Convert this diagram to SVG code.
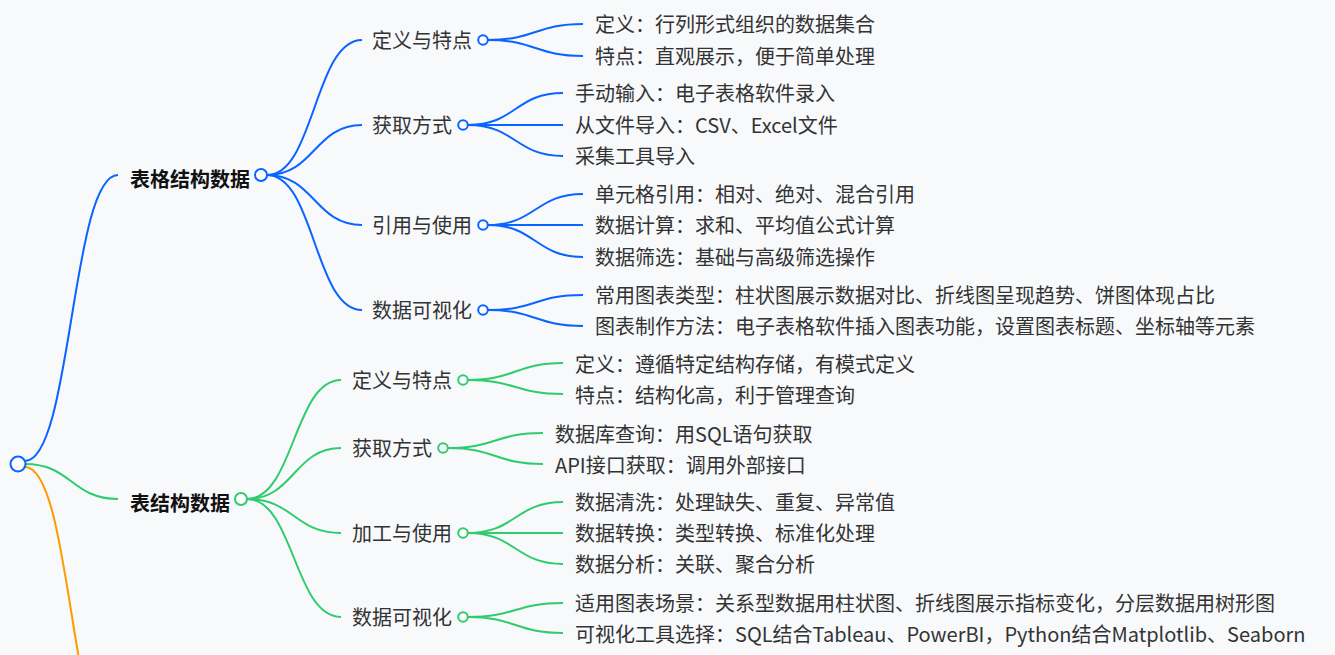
<svg xmlns="http://www.w3.org/2000/svg" width="1335" height="655" viewBox="0 0 1335 655">
<style>
text{font-family:"Noto Sans CJK SC","Noto Sans",sans-serif;font-size:20px;fill:#333}
.top{font-weight:bold;fill:#111}
.l{fill:none;stroke-width:2}
.b{stroke:#0a64ff}
.g{stroke:#2fcc6e}
.o{stroke:#ff9a00}
.cb{fill:#fff;stroke:#0a64ff;stroke-width:2}
.cg{fill:#fff;stroke:#2fcc6e;stroke-width:2}
</style>
<rect width="1335" height="655" fill="#f8f9fb"/>
<g id="connectors">
<path class="l b" d="M25,461 C71.5,461 71.5,175 118,175"/>
<path class="l g" d="M25,464 C71.5,464 71.5,499 118,499"/>
<path class="l o" d="M25,467 C71.5,467 71.5,760 118,760"/>
<path class="l b" d="M267,175 C314.5,175 314.5,40 362,40"/>
<path class="l b" d="M267,175 C314.5,175 314.5,125 362,125"/>
<path class="l b" d="M267,175 C314.5,175 314.5,225 362,225"/>
<path class="l b" d="M267,175 C314.5,175 314.5,310 362,310"/>
<path class="l b" d="M488,40 C535.5,40 535.5,24 583,24"/>
<path class="l b" d="M488,40 C535.5,40 535.5,56 583,56"/>
<path class="l b" d="M468,125 C515.5,125 515.5,93 563,93"/>
<path class="l b" d="M468,125 L563,125"/>
<path class="l b" d="M468,125 C515.5,125 515.5,156 563,156"/>
<path class="l b" d="M488,225 C535.5,225 535.5,194 583,194"/>
<path class="l b" d="M488,225 L583,225"/>
<path class="l b" d="M488,225 C535.5,225 535.5,257 583,257"/>
<path class="l b" d="M488,310 C535.5,310 535.5,295 583,295"/>
<path class="l b" d="M488,310 C535.5,310 535.5,326 583,326"/>
<path class="l g" d="M247,499 C294,499 294,380 341,380"/>
<path class="l g" d="M247,499 C294,499 294,448 341,448"/>
<path class="l g" d="M247,499 C294,499 294,533 341,533"/>
<path class="l g" d="M247,499 C294,499 294,617 341,617"/>
<path class="l g" d="M468,380 C515.5,380 515.5,363 563,363"/>
<path class="l g" d="M468,380 C515.5,380 515.5,394 563,394"/>
<path class="l g" d="M448,448 C495.5,448 495.5,433 543,433"/>
<path class="l g" d="M448,448 C495.5,448 495.5,464 543,464"/>
<path class="l g" d="M468,533 C515.5,533 515.5,502 563,502"/>
<path class="l g" d="M468,533 L563,533"/>
<path class="l g" d="M468,533 C515.5,533 515.5,564 563,564"/>
<path class="l g" d="M468,617 C515.5,617 515.5,603 563,603"/>
<path class="l g" d="M468,617 C515.5,617 515.5,633 563,633"/>
</g>
<g id="root"><circle class="cb" cx="18" cy="464" r="7.5"/></g>
<g id="n-table">
<text class="top" x="130" y="186.5">表格结构数据</text>
<circle class="cb" cx="261" cy="175" r="6"/>
</g>
<g id="n-table-def"><text x="372" y="48">定义与特点</text><circle class="cb" cx="483" cy="40" r="4.8"/></g>
<g id="n-table-get"><text x="372" y="133">获取方式</text><circle class="cb" cx="463" cy="125" r="4.8"/></g>
<g id="n-table-use"><text x="372" y="233">引用与使用</text><circle class="cb" cx="483" cy="225" r="4.8"/></g>
<g id="n-table-vis"><text x="372" y="318">数据可视化</text><circle class="cb" cx="483" cy="310" r="4.8"/></g>
<g id="n-table-leaves">
<text x="595" y="32">定义：行列形式组织的数据集合</text>
<text x="595" y="64">特点：直观展示，便于简单处理</text>
<text x="575" y="101">手动输入：电子表格软件录入</text>
<text x="575" y="133">从文件导入：CSV、Excel文件</text>
<text x="575" y="164">采集工具导入</text>
<text x="595" y="202">单元格引用：相对、绝对、混合引用</text>
<text x="595" y="233">数据计算：求和、平均值公式计算</text>
<text x="595" y="265">数据筛选：基础与高级筛选操作</text>
<text x="595" y="303">常用图表类型：柱状图展示数据对比、折线图呈现趋势、饼图体现占比</text>
<text x="595" y="334">图表制作方法：电子表格软件插入图表功能，设置图表标题、坐标轴等元素</text>
</g>
<g id="n-schema">
<text class="top" x="130" y="510.5">表结构数据</text>
<circle class="cg" cx="241" cy="499" r="6"/>
</g>
<g id="n-schema-def"><text x="352" y="388">定义与特点</text><circle class="cg" cx="463" cy="380" r="4.8"/></g>
<g id="n-schema-get"><text x="352" y="456">获取方式</text><circle class="cg" cx="443" cy="448" r="4.8"/></g>
<g id="n-schema-proc"><text x="352" y="541">加工与使用</text><circle class="cg" cx="463" cy="533" r="4.8"/></g>
<g id="n-schema-vis"><text x="352" y="625">数据可视化</text><circle class="cg" cx="463" cy="617" r="4.8"/></g>
<g id="n-schema-leaves">
<text x="575" y="372">定义：遵循特定结构存储，有模式定义</text>
<text x="575" y="403">特点：结构化高，利于管理查询</text>
<text x="555" y="442">数据库查询：用SQL语句获取</text>
<text x="555" y="473">API接口获取：调用外部接口</text>
<text x="575" y="510">数据清洗：处理缺失、重复、异常值</text>
<text x="575" y="541">数据转换：类型转换、标准化处理</text>
<text x="575" y="572">数据分析：关联、聚合分析</text>
<text x="575" y="611">适用图表场景：关系型数据用柱状图、折线图展示指标变化，分层数据用树形图</text>
<text x="575" y="642">可视化工具选择：SQL结合Tableau、PowerBI，Python结合Matplotlib、Seaborn</text>
</g>
</svg>
